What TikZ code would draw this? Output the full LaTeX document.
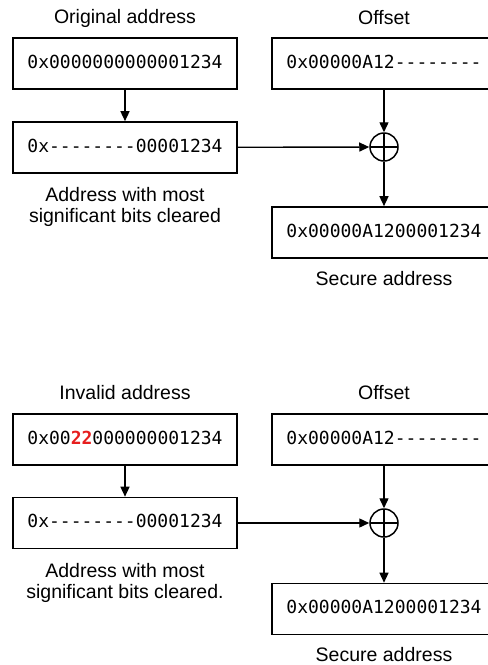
\documentclass[tikz,border=0pt]{standalone}
\usepackage{fontspec}
\setmainfont{Liberation Sans}
\newfontfamily\codefont{DejaVu Sans Mono}
\usetikzlibrary{arrows.meta}
\definecolor{hexred}{RGB}{230,30,30}

\tikzset{
  x=1pt, y=-1pt,
  label text/.style={font=\fontsize{19.5}{21}\selectfont, align=center, inner sep=0pt},
  regbox/.style={draw, line width=1.6pt, minimum width=224pt, minimum height=51pt,
    inner sep=0pt, text height=13pt, text depth=4pt, font=\codefont\fontsize{18}{20}\selectfont},
  xorop/.style={draw, circle, line width=1.5pt, minimum size=28pt, inner sep=0pt,
    path picture={\draw[line width=1.3pt]
      (path picture bounding box.north) -- (path picture bounding box.south)
      (path picture bounding box.west) -- (path picture bounding box.east);}},
  flow/.style={line width=1.4pt, -{Triangle[length=10pt,width=9pt]}},
}

\begin{document}
\begin{tikzpicture}
\useasboundingbox (0,0) rectangle (488,665);

% ---- valid address ----
\node[label text] (t1) at (125,18) {Original address};
\node[label text] (t2) at (384,18) {Offset};
\node[regbox] (a1) at (125,63.5) {0x0000000000001234};
\node[regbox] (b1) at (384,63.5) {0x00000A12--------};
\node[regbox] (a2) at (125,147.5) {0x--------00001234};
\node[xorop] (x1) at (384,147) {};
\node[label text] (t3) at (125,206.5) {Address with most\\significant bits cleared};
\node[regbox] (c1) at (384,232.5) {0x00000A1200001234};
\node[label text] (t4) at (384,279) {Secure address};

\draw[flow] (a1) -- (a2);
\draw[flow] (b1) -- (x1);
\draw[flow] (a2) -- (x1);
\draw[flow] (x1) -- (c1);

% ---- invalid address ----
\node[label text] (u1) at (125,393) {Invalid address};
\node[label text] (u2) at (384,393) {Offset};
\node[regbox] (d1) at (125,439.5) {0x00{\bfseries\color{hexred}22}000000001234};
\node[regbox] (e1) at (384,439.5) {0x00000A12--------};
\node[regbox] (d2) at (125,523) {0x--------00001234};
\node[xorop] (x2) at (384,523) {};
\node[label text] (u3) at (125,582.5) {Address with most\\significant bits cleared.};
\node[regbox] (f1) at (384,609) {0x00000A1200001234};
\node[label text] (u4) at (384,655) {Secure address};

\draw[flow] (d1) -- (d2);
\draw[flow] (e1) -- (x2);
\draw[flow] (d2) -- (x2);
\draw[flow] (x2) -- (f1);
\end{tikzpicture}
\end{document}
